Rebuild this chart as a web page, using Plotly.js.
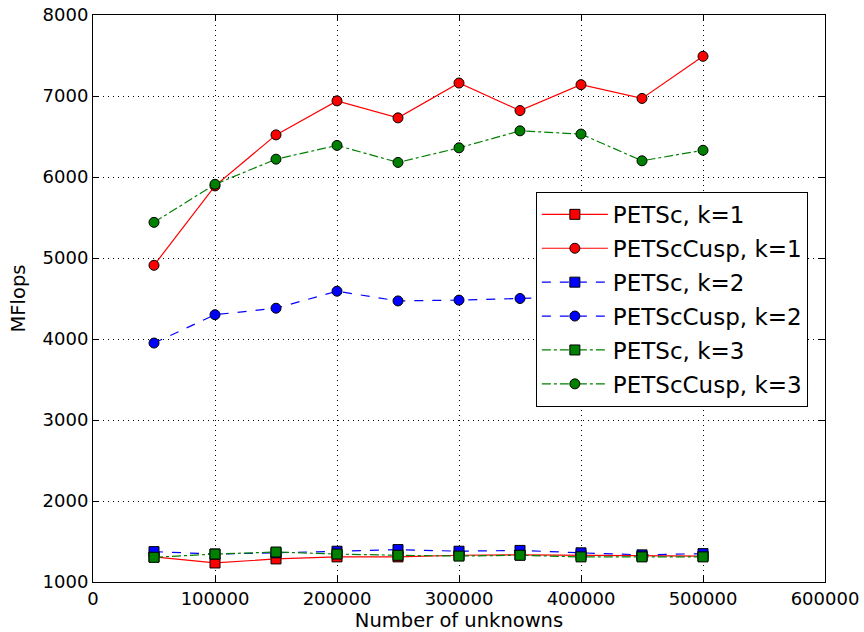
<!DOCTYPE html>
<html>
<head>
<meta charset="utf-8">
<script src="https://cdn.plot.ly/plotly-3.0.1.min.js"></script>
<style>html,body{margin:0;padding:0;background:#fff;}#chart{width:864px;height:632px;}</style>
</head>
<body>
<div id="chart"></div>
<script>
const unknowns = [50000, 100000, 150000, 200000, 250000, 300000, 350000, 400000, 450000, 500000];

const petscK1 = [1310, 1235, 1285, 1310, 1310, 1330, 1335, 1330, 1320, 1320];
const cuspK1  = [4910, 5890, 6520, 6940, 6730, 7160, 6820, 7140, 6970, 7490];
const petscK2 = [1375, 1345, 1360, 1380, 1400, 1380, 1390, 1360, 1335, 1350];
const cuspK2  = [3950, 4300, 4380, 4590, 4470, 4480, 4500, 4520, 4500, 4530];
const petscK3 = [1305, 1345, 1370, 1345, 1330, 1320, 1330, 1310, 1310, 1310];
const cuspK3  = [5440, 5910, 6220, 6390, 6180, 6360, 6570, 6530, 6200, 6330];

const seriesNames = ['PETSc, k=1', 'PETScCusp, k=1', 'PETSc, k=2', 'PETScCusp, k=2', 'PETSc, k=3', 'PETScCusp, k=3'];
const seriesData = [petscK1, cuspK1, petscK2, cuspK2, petscK3, cuspK3];
const colors = ['#ff0000', '#ff0000', '#0000ff', '#0000ff', '#008000', '#008000'];
const symbols = ['square', 'circle', 'square', 'circle', 'square', 'circle'];
const dashes = ['solid', 'solid', 'dash', 'dash', 'dashdot', 'dashdot'];

const traces = seriesData.map((ys, i) => ({
  x: unknowns,
  y: ys,
  name: seriesNames[i],
  type: 'scatter',
  mode: 'lines+markers',
  line: {color: colors[i], width: 1.2, dash: dashes[i]},
  marker: {symbol: symbols[i], size: 10, color: colors[i], line: {color: '#000', width: 1}},
  legendgroup: 'g' + i
}));

const axisCommon = {
  showline: true, linecolor: '#000', linewidth: 1, mirror: 'ticks',
  ticks: 'inside', ticklen: 6, tickcolor: '#000',
  showgrid: true, gridcolor: '#000', griddash: '1px,4px', gridwidth: 1,
  zeroline: false,
  tickfont: {family: 'DejaVu Sans', size: 18, color: '#000'}
};

const layout = {
  width: 864, height: 632,
  margin: {l: 93, r: 39, t: 15, b: 50},
  paper_bgcolor: '#fff', plot_bgcolor: '#fff',
  font: {family: 'DejaVu Sans', color: '#000'},
  xaxis: Object.assign({}, axisCommon, {
    range: [0, 600000], dtick: 100000, tickformat: 'd',
    title: {text: 'Number of unknowns', font: {family: 'DejaVu Sans', size: 19.5}, standoff: 5}
  }),
  yaxis: Object.assign({}, axisCommon, {
    range: [1000, 8000], dtick: 1000, tickformat: 'd',
    title: {text: 'MFlops', font: {family: 'DejaVu Sans', size: 19.5}, standoff: 11}
  }),
  legend: {
    x: 0.605, y: 0.688, xanchor: 'left', yanchor: 'top',
    bgcolor: '#fff', bordercolor: '#000', borderwidth: 1,
    font: {family: 'DejaVu Sans', size: 23, color: '#000'},
    tracegroupgap: 1, traceorder: 'grouped', itemwidth: 66
  },
  showlegend: true
};

Plotly.newPlot('chart', traces, layout, {displayModeBar: false, staticPlot: true});
</script>
</body>
</html>
